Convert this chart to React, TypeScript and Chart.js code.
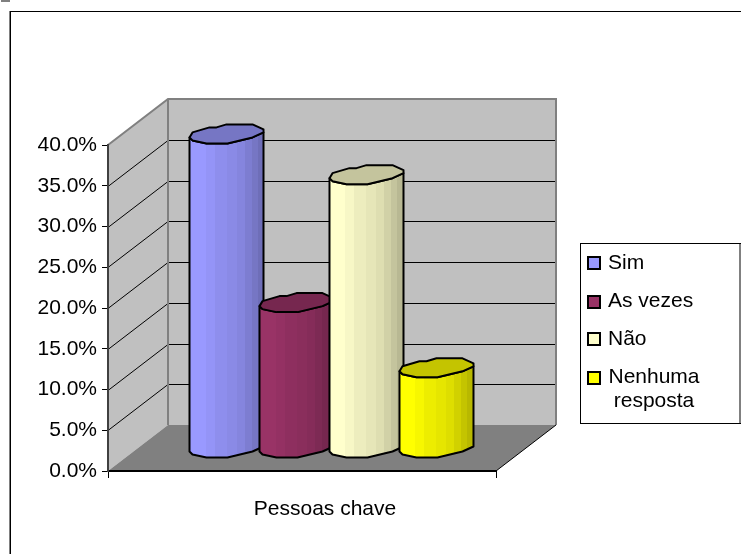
import React, { useEffect, useRef } from "react";
import { Chart, registerables } from "chart.js";

Chart.register(...registerables);

const categories = ["Pessoas chave"];
const seriesNames = ["Sim", "As vezes", "Não", "Nenhuma resposta"];
const simValues = [38.6];
const asVezesValues = [17.9];
const naoValues = [33.6];
const nenhumaValues = [9.9];
const seriesColors: [number, number, number][] = [
  [153, 153, 255],
  [153, 51, 102],
  [255, 255, 204],
  [255, 255, 0],
];
const yTicks = [0, 5, 10, 15, 20, 25, 30, 35, 40];

const FONT = '"Liberation Sans", Arial, sans-serif';
const FONT_SIZE = 21;
const DX = 60;
const DY = 46;
const BAR_SHIFT_X = 29.5;
const BAR_SHIFT_Y = 19;
const HALF = 37;

// rim outline relative to the leftmost rim point
const lowerRim = [[0, 0], [3, 3], [17, 6], [38, 6], [63, 0], [74, -5]];
const upperRim = [[74, -8], [63, -13], [37, -13], [27, -10], [20, -10], [3, -5]];
const bands = [
  [0, 1.0],
  [16, 0.97],
  [25, 0.93],
  [37, 0.9],
  [47, 0.87],
  [55, 0.82],
  [62, 0.77],
  [68, 0.72],
];

const rgb = (c: number[], f: number) =>
  `rgb(${Math.round(c[0] * f)},${Math.round(c[1] * f)},${Math.round(c[2] * f)})`;

const cylinders = {
  id: "cylinders",
  beforeDraw(chart: any) {
    const { ctx, chartArea: a } = chart;
    const l = a.left, r = a.right, t = a.top, b = a.bottom;
    const y = chart.scales.y;
    ctx.save();
    ctx.fillStyle = "#fff";
    ctx.fillRect(0, 0, chart.width, chart.height);
    // back wall
    ctx.fillStyle = "#c0c0c0";
    ctx.fillRect(l + DX, t - DY, r - l, b - t);
    // side wall
    ctx.beginPath();
    ctx.moveTo(l, t);
    ctx.lineTo(l + DX, t - DY);
    ctx.lineTo(l + DX, b - DY);
    ctx.lineTo(l, b);
    ctx.closePath();
    ctx.fill();
    // floor
    ctx.fillStyle = "#808080";
    ctx.beginPath();
    ctx.moveTo(l, b);
    ctx.lineTo(r, b);
    ctx.lineTo(r + DX, b - DY);
    ctx.lineTo(l + DX, b - DY);
    ctx.closePath();
    ctx.fill();
    // grid lines
    ctx.strokeStyle = "#000";
    ctx.lineWidth = 1;
    yTicks.slice(1, -1).forEach((v) => {
      const py = Math.round(y.getPixelForValue(v)) + 0.5;
      ctx.beginPath();
      ctx.moveTo(l, py);
      ctx.lineTo(l + DX, py - DY);
      ctx.lineTo(r + DX, py - DY);
      ctx.stroke();
    });
    // wall edges
    ctx.strokeStyle = "#808080";
    ctx.lineWidth = 2;
    ctx.beginPath();
    ctx.moveTo(l, t);
    ctx.lineTo(l + DX, t - DY);
    ctx.lineTo(r + DX, t - DY);
    ctx.lineTo(r + DX, b - DY);
    ctx.moveTo(l + DX, t - DY);
    ctx.lineTo(l + DX, b - DY);
    ctx.stroke();
    ctx.strokeStyle = "#000";
    ctx.lineWidth = 1;
    ctx.beginPath();
    ctx.moveTo(r, b);
    ctx.lineTo(r + DX, b - DY);
    ctx.stroke();
    ctx.restore();
  },
  afterDatasetsDraw(chart: any) {
    const { ctx } = chart;
    chart.data.datasets.forEach((_: any, i: number) => {
      const el = chart.getDatasetMeta(i).data[0];
      const x0 = el.x + BAR_SHIFT_X - HALF;
      const yTop = el.y - BAR_SHIFT_Y;
      const yBot = el.base - BAR_SHIFT_Y;
      const color = seriesColors[i];
      const grad = ctx.createLinearGradient(x0, 0, x0 + 74, 0);
      bands.forEach(([o, f], k) => {
        const end = k + 1 < bands.length ? bands[k + 1][0] : 74;
        grad.addColorStop(o / 74, rgb(color, f));
        grad.addColorStop(end / 74, rgb(color, f));
      });
      ctx.save();
      ctx.lineJoin = "round";
      // body
      ctx.beginPath();
      ctx.moveTo(x0, yTop);
      ctx.lineTo(x0, yBot);
      lowerRim.slice(1).forEach(([dx, dy]) => ctx.lineTo(x0 + dx, yBot + dy));
      ctx.lineTo(x0 + 74, yTop - 5);
      lowerRim.slice(1).reverse().forEach(([dx, dy]) => ctx.lineTo(x0 + dx, yTop + dy));
      ctx.closePath();
      ctx.fillStyle = grad;
      ctx.fill();
      ctx.strokeStyle = "#000";
      ctx.lineWidth = 2;
      ctx.stroke();
      // top
      ctx.beginPath();
      ctx.moveTo(x0, yTop);
      lowerRim.slice(1).forEach(([dx, dy]) => ctx.lineTo(x0 + dx, yTop + dy));
      upperRim.forEach(([dx, dy]) => ctx.lineTo(x0 + dx, yTop + dy));
      ctx.closePath();
      ctx.fillStyle = rgb(color, 0.77);
      ctx.fill();
      ctx.stroke();
      ctx.restore();
    });
  },
  afterDraw(chart: any) {
    const { ctx } = chart;
    ctx.save();
    // outer frame
    ctx.fillStyle = "#808080";
    ctx.fillRect(1, 0, 9, 2);
    ctx.fillRect(9, 11, 1, chart.height - 11);
    ctx.fillStyle = "#000";
    ctx.fillRect(10, 11, chart.width - 10, 1);
    ctx.fillRect(10, 11, 1, chart.height - 11);
    // legend
    ctx.fillStyle = "#fff";
    ctx.fillRect(580, 243, 161, 181);
    ctx.fillStyle = "#000";
    ctx.fillRect(580, 243, 161, 1);
    ctx.fillRect(580, 423, 161, 1);
    ctx.fillRect(580, 243, 1, 181);
    ctx.fillStyle = "#808080";
    ctx.fillRect(739, 244, 2, 179);
    const rows = [263, 302, 339, 378];
    ctx.font = `${FONT_SIZE}px ${FONT}`;
    ctx.textBaseline = "middle";
    chart.data.datasets.forEach((d: any, i: number) => {
      const cy = rows[i];
      ctx.fillStyle = rgb(seriesColors[i], 1);
      ctx.fillRect(588, cy - 6, 12, 12);
      ctx.strokeStyle = "#000";
      ctx.lineWidth = 2;
      ctx.strokeRect(588, cy - 6, 12, 12);
      ctx.fillStyle = "#000";
      const parts = i === 3 ? d.label.split(" ") : [d.label];
      if (parts.length > 1) {
        ctx.textAlign = "center";
        ctx.fillText(parts[0], 654, cy - 1);
        ctx.fillText(parts[1], 654, cy + 23);
      } else {
        ctx.textAlign = "left";
        ctx.fillText(parts[0], 608, cy - (i === 1 ? 1 : 0));
      }
    });
    ctx.restore();
  },
};

export default function App() {
  const ref = useRef<HTMLCanvasElement>(null);
  useEffect(() => {
    document.body.style.margin = "0";
    const allValues = [simValues, asVezesValues, naoValues, nenhumaValues];
    const chart = new Chart(ref.current!, {
      type: "bar",
      data: {
        labels: categories,
        datasets: allValues.map((data, i) => ({
          label: seriesNames[i],
          data,
          backgroundColor: "rgba(0,0,0,0)",
          borderWidth: 0,
          barPercentage: 1,
          categoryPercentage: 0.7216,
        })),
      },
      options: {
        animation: false,
        responsive: false,
        layout: { padding: { left: 0, right: 245, top: 145, bottom: 0 } },
        plugins: { legend: { display: false }, tooltip: { enabled: false } },
        scales: {
          x: {
            afterFit(scale: any) {
              scale.height = 83;
            },
            grid: { drawOnChartArea: false, color: "#000", tickLength: 7, tickColor: "#000" },
            border: { color: "#000", width: 2 },
            ticks: {
              color: "#000",
              font: { family: FONT, size: FONT_SIZE },
              labelOffset: 23,
              padding: 19,
            },
          },
          y: {
            afterFit(scale: any) {
              scale.width = 108;
            },
            min: 0,
            max: 40,
            grid: { drawOnChartArea: false, color: "#000", tickLength: 6, tickColor: "#000" },
            border: { color: "#404040", width: 2 },
            ticks: {
              stepSize: 5,
              color: "#000",
              font: { family: FONT, size: FONT_SIZE },
              padding: 5,
              callback: (v: any) => Number(v).toFixed(1) + "%",
            },
          },
        },
      },
      plugins: [cylinders],
    });
    return () => chart.destroy();
  }, []);
  return (
    <div style={{ width: 741, height: 554 }}>
      <canvas ref={ref} width={741} height={554} style={{ display: "block" }} />
    </div>
  );
}
